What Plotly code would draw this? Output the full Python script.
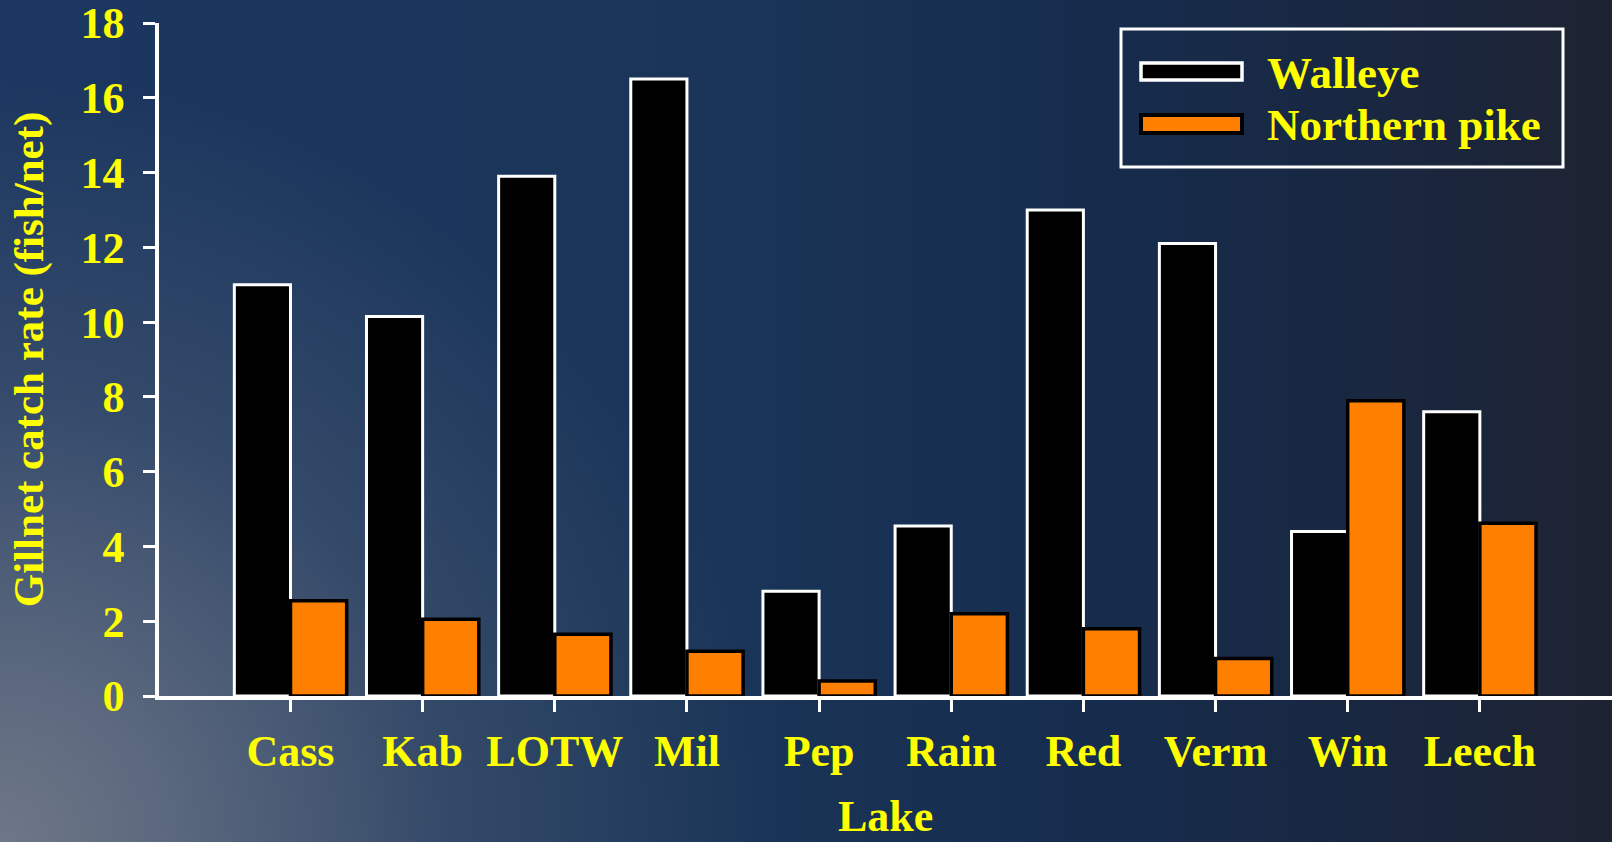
import base64
import plotly.graph_objects as go

# Gillnet catch rates by lake (fish per net)
lakes = ["Cass", "Kab", "LOTW", "Mil", "Pep", "Rain", "Red", "Verm", "Win", "Leech"]
walleye = [11.0, 10.15, 13.9, 16.5, 2.8, 4.55, 13.0, 12.1, 4.4, 7.6]
northern_pike = [2.55, 2.05, 1.65, 1.2, 0.4, 2.2, 1.8, 1.0, 7.9, 4.62]
y_ticks = [0, 2, 4, 6, 8, 10, 12, 14, 16, 18]

series_names = ["Walleye", "Northern pike"]
series_fill = ["#000000", "#FF8000"]
series_edge = ["#FFFFFF", "#000000"]
series_edge_w = [3, 3.5]

x_title = "Lake"
y_title = "Gillnet catch rate (fish/net)"

W, H = 1612, 842
M = dict(l=159, r=0, t=23, b=146)
PW = W - M["l"] - M["r"]
PH = H - M["t"] - M["b"]

YELLOW = "#FFFF00"
FONT = "Liberation Serif"


def px_x(px):
    """Page pixel x -> paper coordinate."""
    return (px - M["l"]) / PW


def px_y(py):
    """Page pixel y -> paper coordinate."""
    return (H - M["b"] - py) / PH


# Slide-style background: blue to charcoal with a grey glow in the lower-left corner
bg_svg = f"""<svg xmlns="http://www.w3.org/2000/svg" width="{W}" height="{H}" viewBox="0 0 {W} {H}" preserveAspectRatio="none">
<defs>
<linearGradient id="base" x1="0" y1="0" x2="1" y2="0">
<stop offset="0" stop-color="#1c3760"/>
<stop offset="0.45" stop-color="#1a3558"/>
<stop offset="0.65" stop-color="#162d4f"/>
<stop offset="0.82" stop-color="#182843"/>
<stop offset="1" stop-color="#1e2332"/>
</linearGradient>
<radialGradient id="haze" gradientUnits="userSpaceOnUse" cx="0" cy="{H}" r="900">
<stop offset="0" stop-color="#6e7787" stop-opacity="1"/>
<stop offset="0.2" stop-color="#6e7787" stop-opacity="0.75"/>
<stop offset="0.5" stop-color="#6e7787" stop-opacity="0.3"/>
<stop offset="0.85" stop-color="#6e7787" stop-opacity="0"/>
</radialGradient>
</defs>
<rect width="{W}" height="{H}" fill="url(#base)"/>
<rect width="{W}" height="{H}" fill="url(#haze)"/>
</svg>"""
bg_uri = "data:image/svg+xml;base64," + base64.b64encode(bg_svg.encode()).decode()

fig = go.Figure()
for name, vals, fill, edge, ew in zip(series_names, [walleye, northern_pike],
                                      series_fill, series_edge, series_edge_w):
    fig.add_trace(go.Bar(
        x=lakes, y=vals, name=name,
        marker=dict(color=fill, line=dict(color=edge, width=ew)),
    ))

axis_font = dict(family=FONT, size=44, color=YELLOW, weight="bold")

fig.update_layout(
    width=W, height=H,
    margin=dict(l=M["l"], r=M["r"], t=M["t"], b=M["b"], pad=0),
    paper_bgcolor="rgba(0,0,0,0)",
    plot_bgcolor="rgba(0,0,0,0)",
    barmode="group", bargap=0.15, bargroupgap=0,
    showlegend=False,
    xaxis=dict(
        type="category", range=[-0.995, 10.0],
        showline=True, linecolor="white", linewidth=3.5,
        ticks="outside", ticklen=12, tickwidth=3, tickcolor="white",
        tickfont=axis_font, ticklabelstandoff=1,
        showgrid=False, zeroline=False,
        automargin=False,
    ),
    yaxis=dict(
        range=[0, 18], tickvals=y_ticks,
        showline=True, linecolor="white", linewidth=3.5,
        ticks="outside", ticklen=12, tickwidth=3, tickcolor="white",
        tickfont=axis_font, ticklabelstandoff=10, ticklabeloverflow="allow",
        showgrid=False, zeroline=False,
        title=dict(text=y_title,
                   font=dict(family=FONT, size=43, color=YELLOW, weight="bold"),
                   standoff=24),
        automargin=False,
    ),
    images=[dict(
        source=bg_uri, xref="paper", yref="paper",
        x=-M["l"] / PW, y=1 + M["t"] / PH,
        sizex=W / PW, sizey=H / PH,
        xanchor="left", yanchor="top", sizing="stretch", layer="below",
    )],
)

# x-axis title sits low, just above the bottom edge of the page
annotations = [dict(text=x_title, xref="paper", yref="paper", x=0.5, y=px_y(816),
                    xanchor="center", yanchor="middle", showarrow=False,
                    font=dict(family=FONT, size=44, color=YELLOW, weight="bold"))]

# Legend panel with wide swatches
shapes = [dict(type="rect", xref="paper", yref="paper",
               x0=px_x(1121), x1=px_x(1563), y0=px_y(29), y1=px_y(167),
               line=dict(color="white", width=3), fillcolor="rgba(0,0,0,0)")]
swatch_rows = [(63, 80), (115, 133)]
text_rows = [73, 125]
for i, name in enumerate(series_names):
    top, bot = swatch_rows[i]
    shapes.append(dict(type="rect", xref="paper", yref="paper",
                       x0=px_x(1141), x1=px_x(1242), y0=px_y(bot), y1=px_y(top),
                       fillcolor=series_fill[i],
                       line=dict(color=series_edge[i], width=series_edge_w[i] + 0.5)))
    annotations.append(dict(text=name, xref="paper", yref="paper",
                            x=px_x(1265), y=px_y(text_rows[i]),
                            xanchor="left", yanchor="middle", showarrow=False,
                            font=dict(family=FONT, size=45, color=YELLOW, weight="bold")))
fig.update_layout(shapes=shapes, annotations=annotations)

fig.write_html("out.html")
